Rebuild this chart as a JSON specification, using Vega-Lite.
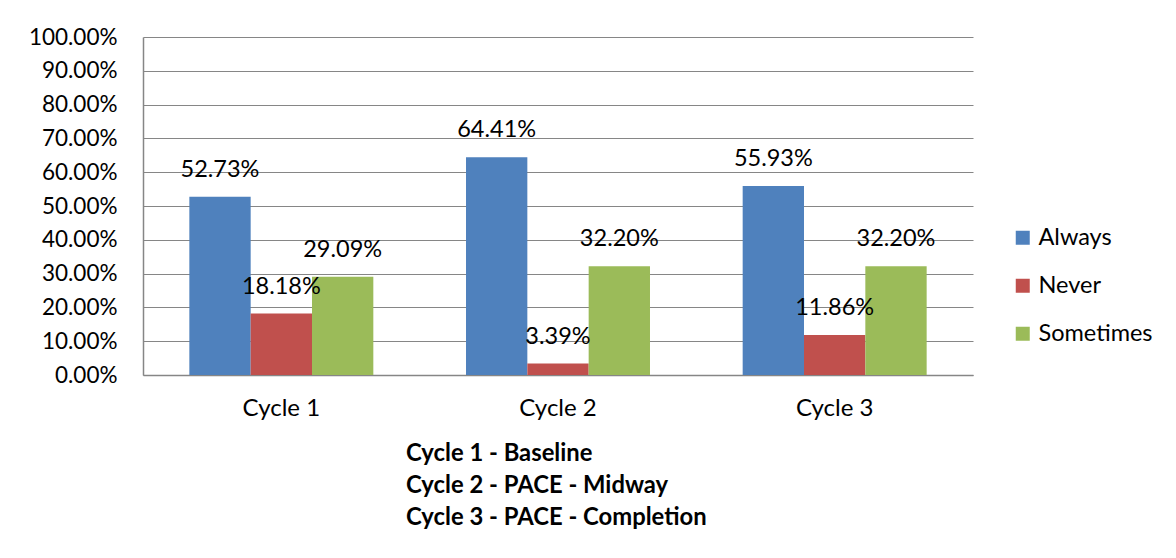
{
  "$schema": "https://vega.github.io/schema/vega-lite/v6.json",
  "width": 830,
  "height": 338,
  "autosize": {"type": "none"},
  "padding": {"left": 143, "top": 37, "right": 203, "bottom": 183},
  "background": "#ffffff",
  "config": {
    "font": "Lato",
    "view": {"stroke": null},
    "axis": {"labelFont": "Lato", "labelColor": "#000000"}
  },
  "title": {
    "text": ["Cycle 1 - Baseline", "Cycle 2 - PACE - Midway", "Cycle 3 - PACE - Completion"],
    "orient": "bottom",
    "anchor": "start",
    "frame": "group",
    "align": "left",
    "dx": 263,
    "offset": 22,
    "fontSize": 23.8,
    "fontWeight": "bold",
    "font": "Lato",
    "color": "#000000",
    "lineHeight": 32,
    "baseline": "top"
  },
  "data": {
    "values": [
      {"cycle": "Cycle 1", "response": "Always", "value": 0.5273},
      {"cycle": "Cycle 1", "response": "Never", "value": 0.1818},
      {"cycle": "Cycle 1", "response": "Sometimes", "value": 0.2909},
      {"cycle": "Cycle 2", "response": "Always", "value": 0.6441},
      {"cycle": "Cycle 2", "response": "Never", "value": 0.0339},
      {"cycle": "Cycle 2", "response": "Sometimes", "value": 0.3220},
      {"cycle": "Cycle 3", "response": "Always", "value": 0.5593},
      {"cycle": "Cycle 3", "response": "Never", "value": 0.1186},
      {"cycle": "Cycle 3", "response": "Sometimes", "value": 0.3220}
    ]
  },
  "encoding": {
    "x": {
      "field": "cycle",
      "type": "nominal",
      "scale": {"paddingInner": 0.335, "paddingOuter": 0.1675},
      "axis": {
        "title": null,
        "labelAngle": 0,
        "labelFontSize": 24,
        "labelPadding": 21,
        "ticks": false,
        "domainColor": "#868686",
        "domainWidth": 1.5
      }
    },
    "xOffset": {"field": "response", "type": "nominal", "sort": ["Always", "Never", "Sometimes"]},
    "y": {
      "field": "value",
      "type": "quantitative",
      "scale": {"domain": [0, 1], "nice": false},
      "axis": {
        "title": null,
        "format": ".2%",
        "values": [0, 0.1, 0.2, 0.3, 0.4, 0.5, 0.6, 0.7, 0.8, 0.9, 1.0],
        "labelFontSize": 22.5,
        "labelPadding": 26,
        "ticks": false,
        "grid": true,
        "gridColor": "#868686",
        "gridWidth": 1,
        "domainColor": "#868686",
        "domainWidth": 1.5
      }
    }
  },
  "layer": [
    {
      "mark": {"type": "bar"},
      "encoding": {
        "color": {
          "field": "response",
          "type": "nominal",
          "scale": {"domain": ["Always", "Never", "Sometimes"], "range": ["#4F81BD", "#C0504D", "#9BBB59"]},
          "legend": {
            "title": null,
            "orient": "none",
            "legendX": 868,
            "legendY": 189,
            "symbolType": "square",
            "symbolSize": 196,
            "symbolStrokeWidth": 0,
            "labelFontSize": 23.5,
            "labelFont": "Lato",
            "labelColor": "#000000",
            "rowPadding": 23,
            "labelOffset": 4
          }
        }
      }
    },
    {
      "mark": {"type": "text", "baseline": "middle", "dy": -27, "fontSize": 23.5, "font": "Lato", "color": "#000000"},
      "encoding": {
        "text": {"field": "value", "type": "quantitative", "format": ".2%"}
      }
    }
  ]
}
